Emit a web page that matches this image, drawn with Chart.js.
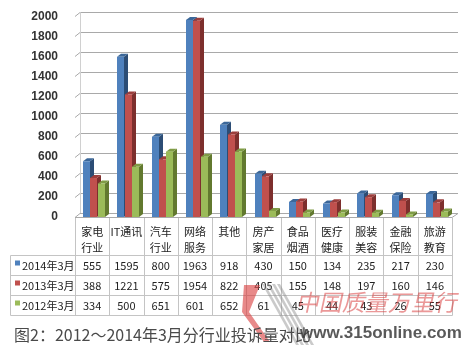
<!DOCTYPE html>
<html>
<head>
<meta charset="utf-8">
<script src="https://cdn.jsdelivr.net/npm/chart.js@4.4.0/dist/chart.umd.min.js"></script>
<style>
  html, body { margin: 0; padding: 0; background: #fff; }
  #wrap { position: relative; width: 466px; height: 351px; overflow: hidden; }
  #caption { position: absolute; left: 14px; top: 322px; font: 16px "Noto Sans CJK SC", sans-serif; color: #4a4a4a; white-space: nowrap; }
  #wm1 { position: absolute; left: 298px; top: 284px; font: 23px "Noto Sans CJK SC", sans-serif; color: rgba(215, 50, 50, 0.5); transform: skewX(-12deg); white-space: nowrap; letter-spacing: 0px; }
  #wm2 { position: absolute; left: 300px; top: 323px; font: bold 17px "Liberation Sans", sans-serif; color: rgba(60, 60, 60, 0.85); white-space: nowrap; }
</style>
</head>
<body>
<div id="wrap">
  <canvas id="chart" width="466" height="351"></canvas>
  <div id="caption">图2：2012～2014年3月分行业投诉量对比</div>
  <div id="wm1">中国质量万里行</div>
  <div id="wm2">www.315online.com</div>
</div>
<script>
// category labels (split over two lines in the table header)
const categories = [
  ["家电", "行业"], ["IT通讯"], ["汽车", "行业"], ["网络", "服务"], ["其他"],
  ["房产", "家居"], ["食品", "烟酒"], ["医疗", "健康"], ["服装", "美容"],
  ["金融", "保险"], ["旅游", "教育"]
];
const seriesNames = ["2014年3月", "2013年3月", "2012年3月"];
const data2014 = [555, 1595, 800, 1963, 918, 430, 150, 134, 235, 217, 230];
const data2013 = [388, 1221, 575, 1954, 822, 405, 155, 148, 197, 160, 146];
const data2012 = [334, 500, 651, 601, 652, 61, 45, 44, 43, 26, 55];
const yTicks = [0, 200, 400, 600, 800, 1000, 1200, 1400, 1600, 1800, 2000];

const front = ["#4f81bd", "#c0504d", "#9bbb59"];
const side = ["#2c4d75", "#7d2f2d", "#62792f"];
const topFace = ["#3b6799", "#9c3e3c", "#7f9c45"];

const DX = 4, DY = 3, SHIFT = 2;
const GRID = "#a9a9a9";
const LINE = "#c4c4c4";

// walls, gridlines and floor in perspective
const wallPlugin = {
  id: "wall",
  beforeDatasetsDraw(chart) {
    const { ctx, chartArea: a, scales: { y } } = chart;
    ctx.save();
    ctx.strokeStyle = GRID;
    ctx.lineWidth = 1;
    yTicks.forEach((v) => {
      const py = Math.round(y.getPixelForValue(v)) + 0.5;
      ctx.beginPath();
      ctx.moveTo(a.left, py);
      ctx.lineTo(a.left + 5, py - 4);
      ctx.lineTo(a.right + 6, py - 4);
      ctx.stroke();
    });
    // back wall left edge
    ctx.strokeStyle = "#d0d0d0";
    ctx.beginPath();
    ctx.moveTo(a.left + 5.5, a.top - 4);
    ctx.lineTo(a.left + 5.5, a.bottom - 4);
    ctx.stroke();
    // floor front edge
    ctx.strokeStyle = GRID;
    ctx.beginPath();
    ctx.moveTo(a.left, a.bottom + 0.5);
    ctx.lineTo(a.right, a.bottom + 0.5);
    ctx.lineTo(a.right + 6, a.bottom - 3.5);
    ctx.stroke();
    ctx.restore();
  }
};

// 3D bars: side + top, then front face
const barsPlugin = {
  id: "bars3d",
  afterDatasetsDraw(chart) {
    const ctx = chart.ctx;
    ctx.save();
    categories.forEach((c, i) => {
      chart.data.datasets.forEach((ds, d) => {
        const el = chart.getDatasetMeta(d).data[i];
        const x0 = Math.round(el.x - el.width / 2) + SHIFT;
        const w = Math.round(el.width);
        const yt = el.y, yb = el.base;
        ctx.fillStyle = side[d];
        ctx.beginPath();
        ctx.moveTo(x0 + w, yt);
        ctx.lineTo(x0 + w + DX, yt - DY);
        ctx.lineTo(x0 + w + DX, yb - DY);
        ctx.lineTo(x0 + w, yb);
        ctx.closePath();
        ctx.fill();
        ctx.fillStyle = topFace[d];
        ctx.beginPath();
        ctx.moveTo(x0, yt);
        ctx.lineTo(x0 + DX, yt - DY);
        ctx.lineTo(x0 + w + DX, yt - DY);
        ctx.lineTo(x0 + w, yt);
        ctx.closePath();
        ctx.fill();
        ctx.fillStyle = front[d];
        ctx.fillRect(x0, yt, w, yb - yt);
      });
    });
    ctx.restore();
  }
};

// data table under the plot
const tablePlugin = {
  id: "table",
  afterDraw(chart) {
    const { ctx, chartArea: a } = chart;
    const colW = (a.right - a.left) / categories.length;
    const rows = [255.5, 275.5, 295.5, 315.5];
    const values = [data2014, data2013, data2012];
    ctx.save();
    ctx.strokeStyle = LINE;
    ctx.lineWidth = 1;
    for (let i = 0; i <= categories.length; i++) {
      const px = Math.round(a.left + i * colW) + 0.5;
      ctx.beginPath();
      ctx.moveTo(px, a.bottom + 1);
      ctx.lineTo(px, rows[3]);
      ctx.stroke();
    }
    rows.forEach((ry) => {
      ctx.beginPath();
      ctx.moveTo(10.5, ry);
      ctx.lineTo(Math.round(a.right) + 0.5, ry);
      ctx.stroke();
    });
    ctx.beginPath();
    ctx.moveTo(10.5, rows[0]);
    ctx.lineTo(10.5, rows[3]);
    ctx.stroke();

    ctx.fillStyle = "#222";
    ctx.font = '11px "Noto Sans CJK SC", sans-serif';
    ctx.textAlign = "center";
    ctx.textBaseline = "middle";
    categories.forEach((c, i) => {
      const cx = a.left + (i + 0.5) * colW;
      c.forEach((t, k) => ctx.fillText(t, cx, 232 + k * 16));
      values.forEach((arr, r) => ctx.fillText(String(arr[i]), cx, rows[r] + 10));
    });
    ctx.textAlign = "left";
    seriesNames.forEach((n, r) => {
      const cy = rows[r] + 10;
      ctx.fillStyle = front[r];
      ctx.fillRect(15, cy - 5, 5, 5);
      ctx.fillStyle = "#222";
      ctx.fillText(n, 22, cy);
    });
    ctx.restore();
  }
};

// faint watermark logo
const logoPlugin = {
  id: "logo",
  afterDraw(chart) {
    const ctx = chart.ctx;
    ctx.save();
    ctx.globalAlpha = 0.45;
    ctx.fillStyle = "#8a8a8a";
    for (let k = 0; k < 4; k++) {
      ctx.beginPath();
      ctx.moveTo(262 + k * 5, 284);
      ctx.lineTo(265 + k * 5, 284);
      ctx.lineTo(299 + k * 5, 345);
      ctx.lineTo(296 + k * 5, 345);
      ctx.closePath();
      ctx.fill();
    }
    ctx.globalAlpha = 0.6;
    ctx.fillStyle = "#d93a3a";
    ctx.beginPath();
    ctx.moveTo(244, 285);
    ctx.lineTo(260, 285);
    ctx.lineTo(249, 312);
    ctx.lineTo(270, 342);
    ctx.lineTo(264, 342);
    ctx.lineTo(242, 312);
    ctx.closePath();
    ctx.fill();
    ctx.restore();
  }
};

new Chart(document.getElementById("chart"), {
  type: "bar",
  data: {
    labels: categories.map((c) => c.join("")),
    datasets: seriesNames.map((n, d) => ({
      label: n,
      data: [data2014, data2013, data2012][d],
      backgroundColor: "rgba(0,0,0,0)",
      categoryPercentage: 0.64,
      barPercentage: 1.0
    }))
  },
  options: {
    responsive: false,
    animation: false,
    devicePixelRatio: 1,
    layout: { padding: { left: 0, right: 14, top: 14, bottom: 134 } },
    plugins: { legend: { display: false }, tooltip: { enabled: false } },
    scales: {
      x: { display: false },
      y: {
        min: 0,
        max: 2000,
        afterBuildTicks: (s) => { s.ticks = yTicks.map((v) => ({ value: v })); },
        afterFit: (s) => { s.width = 75; },
        grid: { display: false },
        border: { display: false },
        ticks: {
          color: "#333",
          padding: 9,
          callback: (v) => String(v),
          font: { family: "Liberation Sans", size: 12, weight: "bold" }
        }
      }
    }
  },
  plugins: [wallPlugin, barsPlugin, tablePlugin, logoPlugin]
});
</script>
</body>
</html>
